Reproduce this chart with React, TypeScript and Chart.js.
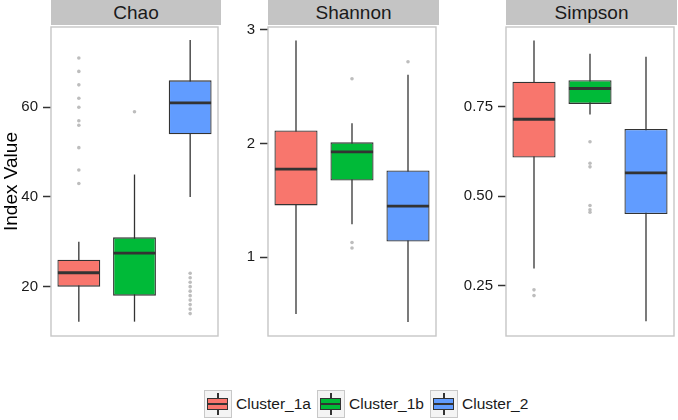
import React, { useEffect, useRef } from 'react';
import { Chart, registerables } from 'chart.js';
Chart.register(...registerables);

const clusters = ['Cluster_1a', 'Cluster_1b', 'Cluster_2'];
const clusterColors = ['#F8766D', '#00BA38', '#619CFF'];

// Chao
const chaoTicks = [20, 40, 60];
const chaoLow = [12.2, 12.2, 40];
const chaoQ1 = [20, 18, 54];
const chaoMedian = [23.1, 27.5, 61];
const chaoQ3 = [26, 31, 66];
const chaoHigh = [30, 45, 75];
const chaoOut1a = [71, 68, 65, 62, 60, 57, 56, 51, 46, 43];
const chaoOut1b = [59];
const chaoOut2 = [23, 22, 21, 20, 19, 18, 17, 16, 15, 14];

// Shannon
const shannonTicks = [1, 2, 3];
const shannonLow = [0.5, 1.29, 0.43];
const shannonQ1 = [1.456, 1.675, 1.138];
const shannonMedian = [1.775, 1.928, 1.45];
const shannonQ3 = [2.115, 2.011, 1.764];
const shannonHigh = [2.908, 2.18, 2.605];
const shannonOut1a: number[] = [];
const shannonOut1b = [2.571, 1.13, 1.081];
const shannonOut2 = [2.72];

// Simpson
const simpsonTicks = [0.25, 0.5, 0.75];
const simpsonLow = [0.298, 0.728, 0.15];
const simpsonQ1 = [0.608, 0.758, 0.45];
const simpsonMedian = [0.715, 0.801, 0.565];
const simpsonQ3 = [0.82, 0.824, 0.688];
const simpsonHigh = [0.935, 0.898, 0.89];
const simpsonOut1a = [0.238, 0.222];
const simpsonOut1b = [0.652, 0.592, 0.582, 0.474, 0.462, 0.455];
const simpsonOut2: number[] = [];

const FONT = '"Liberation Sans", Arial, Helvetica, sans-serif';

type PanelProps = {
  left: number;
  width: number;
  axisWidth: number;
  title: string;
  yMin: number;
  yMax: number;
  ticks: number[];
  decimals: number;
  low: number[];
  q1: number[];
  med: number[];
  q3: number[];
  high: number[];
  outliers: number[][];
  yTitle?: string;
};

const HEIGHT = 350;

function Panel(p: PanelProps) {
  const ref = useRef<HTMLCanvasElement>(null);
  useEffect(() => {
    if (!ref.current) return;
    const plugin = {
      id: 'boxplotParts',
      beforeDatasetsDraw(chart: any) {
        const ctx = chart.ctx;
        const y = chart.scales.y;
        const meta = chart.getDatasetMeta(0);
        ctx.save();
        ctx.strokeStyle = '#333333';
        ctx.lineWidth = 1.3;
        meta.data.forEach((bar: any, i: number) => {
          ctx.beginPath();
          ctx.moveTo(bar.x, y.getPixelForValue(p.low[i]));
          ctx.lineTo(bar.x, y.getPixelForValue(p.high[i]));
          ctx.stroke();
        });
        ctx.restore();
      },
      afterDatasetsDraw(chart: any) {
        const ctx = chart.ctx;
        const y = chart.scales.y;
        const meta = chart.getDatasetMeta(0);
        ctx.save();
        ctx.strokeStyle = '#333333';
        ctx.lineWidth = 2.8;
        meta.data.forEach((bar: any, i: number) => {
          const yy = y.getPixelForValue(p.med[i]);
          ctx.beginPath();
          ctx.moveTo(bar.x - bar.width / 2 + 0.5, yy);
          ctx.lineTo(bar.x + bar.width / 2 - 0.5, yy);
          ctx.stroke();
        });
        const a = chart.chartArea;
        ctx.strokeStyle = '#c6c6c6';
        ctx.lineWidth = 1.4;
        ctx.strokeRect(a.left, a.top, a.right - a.left, a.bottom - a.top);
        ctx.restore();
      },
    };
    const outlierData: { x: string; y: number }[] = [];
    p.outliers.forEach((arr, i) => arr.forEach((v) => outlierData.push({ x: clusters[i], y: v })));
    const chart = new Chart(ref.current, {
      type: 'bar',
      data: {
        labels: clusters,
        datasets: [
          {
            type: 'bar',
            data: clusters.map((_, i) => [p.q1[i], p.q3[i]]) as any,
            backgroundColor: clusterColors,
            borderColor: '#333333',
            borderWidth: 1.3,
            borderSkipped: false,
            barPercentage: 0.77,
            categoryPercentage: 1.0,
          } as any,
          {
            type: 'scatter',
            data: outlierData as any,
            pointRadius: 1.8,
            pointBackgroundColor: '#bdbdbd',
            pointBorderWidth: 0,
            borderWidth: 0,
            showLine: false,
          } as any,
        ],
      },
      options: {
        animation: false,
        responsive: false,
        maintainAspectRatio: false,
        events: [],
        layout: { padding: { top: 27, bottom: 8, left: 0, right: 1 } },
        plugins: { legend: { display: false }, tooltip: { enabled: false } },
        scales: {
          x: { type: 'category', display: false, offset: true },
          y: {
            type: 'linear',
            min: p.yMin,
            max: p.yMax,
            afterBuildTicks: (s: any) => {
              s.ticks = p.ticks.map((v) => ({ value: v }));
            },
            afterFit: (s: any) => {
              s.width = p.axisWidth;
            },
            ticks: {
              color: '#1a1a1a',
              font: { family: FONT, size: 15 },
              padding: 5,
              callback: (v: any) => Number(v).toFixed(p.decimals),
            },
            grid: {
              display: true,
              drawOnChartArea: false,
              drawTicks: true,
              tickLength: 8,
              tickColor: '#333333',
              tickWidth: 1.5,
            },
            border: { display: false },
            title: p.yTitle
              ? {
                  display: true,
                  text: p.yTitle,
                  color: '#000000',
                  font: { family: FONT, size: 19 },
                  padding: { top: 0, bottom: 0 },
                }
              : { display: false },
          },
        },
      },
      plugins: [plugin],
    });
    return () => chart.destroy();
  }, []);
  return (
    <>
      <canvas
        ref={ref}
        width={p.width}
        height={HEIGHT}
        style={{ position: 'absolute', left: p.left, top: 0, width: p.width, height: HEIGHT }}
      />
      <div
        style={{
          position: 'absolute',
          left: p.left + p.axisWidth,
          top: 0,
          width: p.width - p.axisWidth - 1,
          height: 25,
          background: '#c4c4c4',
          color: '#1a1a1a',
          fontFamily: FONT,
          fontSize: 19,
          lineHeight: '25px',
          textAlign: 'center',
        }}
      >
        {p.title}
      </div>
    </>
  );
}

function LegendKey({ color }: { color: string }) {
  return (
    <div
      style={{
        position: 'relative',
        width: 26,
        height: 26,
        border: '1.5px solid #c8c8c8',
        background: '#f4f4f4',
      }}
    >
      <div style={{ position: 'absolute', left: 12, top: 2, width: 1.5, height: 22, background: '#333' }} />
      <div
        style={{
          position: 'absolute',
          left: 2,
          top: 7,
          width: 19,
          height: 10,
          background: color,
          border: '1.3px solid #333',
        }}
      />
      <div style={{ position: 'absolute', left: 3, top: 12, width: 20, height: 2, background: '#333' }} />
    </div>
  );
}

export default function App() {
  const legendLefts = [204, 317, 430];
  return (
    <div style={{ position: 'fixed', left: 0, top: 0, width: 678, height: 420, background: '#fff', overflow: 'hidden' }}>
      <Panel
        left={0}
        width={222}
        axisWidth={51}
        title="Chao"
        yMin={9}
        yMax={77.9}
        ticks={chaoTicks}
        decimals={0}
        low={chaoLow}
        q1={chaoQ1}
        med={chaoMedian}
        q3={chaoQ3}
        high={chaoHigh}
        outliers={[chaoOut1a, chaoOut1b, chaoOut2]}
        yTitle="Index Value"
      />
      <Panel
        left={222}
        width={218}
        axisWidth={46}
        title="Shannon"
        yMin={0.307}
        yMax={3.026}
        ticks={shannonTicks}
        decimals={0}
        low={shannonLow}
        q1={shannonQ1}
        med={shannonMedian}
        q3={shannonQ3}
        high={shannonHigh}
        outliers={[shannonOut1a, shannonOut1b, shannonOut2]}
      />
      <Panel
        left={440}
        width={238}
        axisWidth={66}
        title="Simpson"
        yMin={0.109}
        yMax={0.973}
        ticks={simpsonTicks}
        decimals={2}
        low={simpsonLow}
        q1={simpsonQ1}
        med={simpsonMedian}
        q3={simpsonQ3}
        high={simpsonHigh}
        outliers={[simpsonOut1a, simpsonOut1b, simpsonOut2]}
      />
      {clusters.map((c, i) => (
        <div
          key={c}
          style={{
            position: 'absolute',
            left: legendLefts[i],
            top: 389,
            display: 'flex',
            alignItems: 'center',
            height: 29,
          }}
        >
          <LegendKey color={clusterColors[i]} />
          <span style={{ marginLeft: 4, fontFamily: FONT, fontSize: 15.5, color: '#1a1a1a', whiteSpace: 'nowrap' }}>{c}</span>
        </div>
      ))}
    </div>
  );
}
